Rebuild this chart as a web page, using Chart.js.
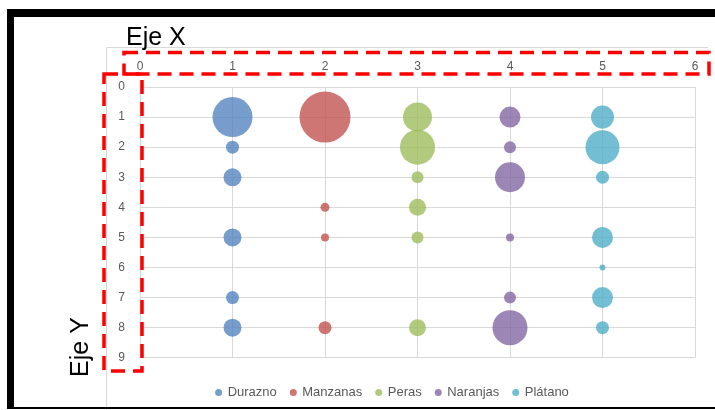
<!DOCTYPE html>
<html>
<head>
<meta charset="utf-8">
<script src="https://cdn.jsdelivr.net/npm/chart.js@4"></script>
<style>
  html, body { margin: 0; padding: 0; background: #fff; }
  #wrap { width: 715px; height: 410px; position: relative; }
</style>
</head>
<body>
<div id="wrap"><canvas id="chart" width="715" height="410"></canvas></div>
<script>
// series names (legend)
const seriesNames = ['Durazno', 'Manzanas', 'Peras', 'Naranjas', 'Plátano'];
const seriesX = [1, 2, 3, 4, 5];
const seriesColors = ['79,129,189', '192,80,77', '155,187,89', '128,100,162', '75,172,198'];

// y positions and bubble radius (px)
const durazno_y  = [1, 2, 3, 5, 7, 8];
const durazno_r  = [20, 6.5, 9, 9, 6.5, 9];
const manzanas_y = [1, 4, 5, 8];
const manzanas_r = [25.5, 4.5, 4, 6.5];
const peras_y    = [1, 2, 3, 4, 5, 8];
const peras_r    = [14.5, 17.5, 6, 8.5, 6, 8.5];
const naranjas_y = [1, 2, 3, 5, 7, 8];
const naranjas_r = [10.5, 6, 15, 4, 6, 17.5];
const platano_y  = [1, 2, 3, 5, 6, 7, 8];
const platano_r  = [11.5, 17, 6.5, 10.5, 3, 10.5, 6.5];

const xTicks = [0, 1, 2, 3, 4, 5, 6];
const yTicks = [0, 1, 2, 3, 4, 5, 6, 7, 8, 9];

const ys = [durazno_y, manzanas_y, peras_y, naranjas_y, platano_y];
const rs = [durazno_r, manzanas_r, peras_r, naranjas_r, platano_r];

const datasets = seriesNames.map((name, i) => ({
  label: name,
  data: ys[i].map((y, j) => ({ x: seriesX[i], y: y, r: rs[i][j] })),
  backgroundColor: 'rgba(' + seriesColors[i] + ',0.78)',
  borderWidth: 0,
  hoverRadius: 0
}));

const gray = '#595959';
const gridColor = '#d9d9d9';

// frame, red dashed boxes and axis captions
const decor = {
  id: 'decor',
  beforeDraw(chart) {
    const ctx = chart.ctx;
    ctx.save();
    ctx.fillStyle = '#fff';
    ctx.fillRect(0, 0, 715, 410);
    // outer chart border
    ctx.strokeStyle = gridColor;
    ctx.lineWidth = 1;
    ctx.beginPath();
    ctx.moveTo(106.5, 410);
    ctx.lineTo(106.5, 47.5);
    ctx.lineTo(708, 47.5);
    ctx.stroke();
    ctx.restore();
  },
  afterDraw(chart) {
    const ctx = chart.ctx;
    ctx.save();
    // black frame
    ctx.fillStyle = '#000';
    ctx.fillRect(7, 9, 708, 8);
    ctx.fillRect(7, 9, 7, 400);
    ctx.fillRect(7, 407, 708, 2);
    // red dashed boxes
    ctx.strokeStyle = '#ff0000';
    ctx.lineWidth = 3.5;
    ctx.setLineDash([14, 8]);
    ctx.strokeRect(124, 52.5, 585, 21.5);
    ctx.strokeRect(104, 74, 38, 297);
    ctx.setLineDash([]);
    // captions
    ctx.fillStyle = '#000';
    ctx.font = '25px "Liberation Sans", Arial, sans-serif';
    ctx.textAlign = 'left';
    ctx.textBaseline = 'alphabetic';
    ctx.fillText('Eje X', 126, 45);
    ctx.translate(88, 347);
    ctx.rotate(-Math.PI / 2);
    ctx.textAlign = 'center';
    ctx.fillText('Eje Y', 0, 0);
    ctx.restore();
  }
};

new Chart(document.getElementById('chart'), {
  type: 'bubble',
  data: { datasets: datasets },
  options: {
    responsive: false,
    animation: false,
    events: [],
    layout: { autoPadding: false, padding: { left: 90, top: 50, right: 20, bottom: 1 } },
    scales: {
      x: {
        type: 'linear',
        position: 'top',
        min: 0,
        max: 6,
        afterFit(scale) { scale.height = 37; scale.paddingLeft = 0; scale.paddingRight = 0; },
        afterBuildTicks(scale) { scale.ticks = xTicks.map(v => ({ value: v })); },
        grid: { color: gridColor, drawTicks: false },
        border: { color: gridColor },
        ticks: { color: gray, padding: 13, font: { family: '"Liberation Sans", Arial', size: 12 } }
      },
      y: {
        type: 'linear',
        reverse: true,
        min: 0,
        max: 9,
        afterFit(scale) { scale.width = 50; },
        afterBuildTicks(scale) { scale.ticks = yTicks.map(v => ({ value: v })); },
        grid: { color: gridColor, drawTicks: false },
        border: { color: gridColor },
        ticks: { color: gray, padding: 15, font: { family: '"Liberation Sans", Arial', size: 12 } }
      }
    },
    plugins: {
      tooltip: { enabled: false },
      legend: {
        position: 'bottom',
        title: { display: true, text: '', font: { size: 1 }, padding: { top: 13, bottom: 0 } },
        labels: {
          usePointStyle: true,
          pointStyle: 'circle',
          boxWidth: 5,
          boxHeight: 5,
          padding: 14,
          color: gray,
          font: { family: '"Liberation Sans", Arial', size: 13 }
        }
      }
    }
  },
  plugins: [decor]
});
</script>
</body>
</html>
